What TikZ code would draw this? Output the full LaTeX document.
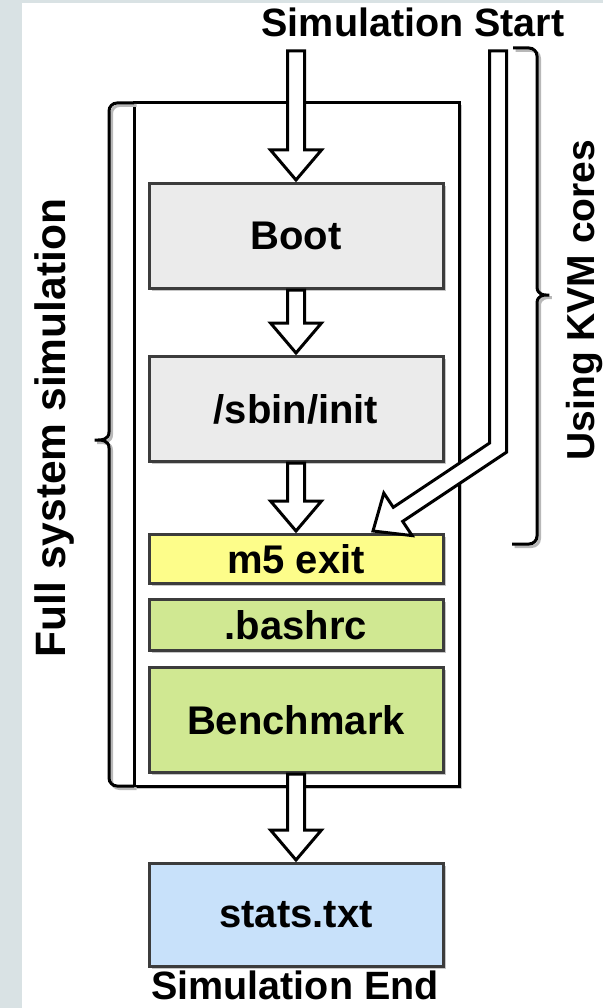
\documentclass[tikz,border=0pt]{standalone}
\usepackage{fontspec}
\setmainfont{Liberation Sans}
\usetikzlibrary{calc,shadows}

\definecolor{stripgrey}{HTML}{D9E2E4}
\definecolor{boxedge}{HTML}{3C3C3C}
\definecolor{bootgrey}{HTML}{EBEBEB}
\definecolor{exityellow}{HTML}{FDFD8A}
\definecolor{rcgreen}{HTML}{D0E892}
\definecolor{statsblue}{HTML}{C8E1FA}

\tikzset{
	stage/.style={draw=boxedge, line width=3pt, minimum width=294pt, inner sep=0pt,
		font=\fontsize{40}{42}\selectfont\bfseries,
		drop shadow={shadow xshift=2.5pt, shadow yshift=-2.5pt, fill=black!28, opacity=.8}},
	frame/.style={draw=black, line width=3pt, fill=white,
		drop shadow={shadow xshift=2.5pt, shadow yshift=-2.5pt, fill=black!28, opacity=.8}},
	brace/.style={draw=black, line width=3pt, rounded corners=8pt},
	braceshadow/.style={draw=black!28, line width=3pt, rounded corners=8pt, shift={(2.5,2.5)}},
	blockarrow/.style={draw=black, line width=3pt, fill=white, line join=miter},
	caption/.style={font=\fontsize{39.5}{42}\selectfont\bfseries, anchor=base}
}

% fat downward arrow from (#1) to the top of (#2)
\def\blockarrow(#1)(#2){\draw[blockarrow] ($(#1)+(-8.5,0)$) -- ($(#2)+(-8.5,-32)$) -- ($(#2)+(-25.5,-32)$) -- ($(#2)+(0,-2)$) -- ($(#2)+(25.5,-32)$) -- ($(#2)+(8.5,-32)$) -- ($(#1)+(8.5,0)$) -- cycle;}

\def\leftbrace{(134,103) -- (109,103) -- (109,424) .. controls (109,440) and (101,440) .. (90,440) .. controls (101,440) and (109,440) .. (109,456) -- (109,786) -- (134,786)}
\def\rightbrace{(513,48) -- (537,48) -- (537,279) .. controls (537,295) and (545,295) .. (554,295) .. controls (545,295) and (537,295) .. (537,311) -- (537,544) -- (512,544)}

\begin{document}
\begin{tikzpicture}[x=1pt, y=-1pt]
	\useasboundingbox (0,0) rectangle (603,1008);
	\fill[stripgrey] (0,0) rectangle (603,1008);
	\fill[white] (22,3) rectangle (603,1008);
	
	%%%%% frame and braces %%%%%
	\draw[frame] (134,103) rectangle (459,786);
	\draw[braceshadow] \leftbrace;
	\draw[brace] \leftbrace;
	\draw[braceshadow] \rightbrace;
	\draw[brace] \rightbrace;
	
	\node[caption] (start) at (413,37) {Simulation Start};
	\node[caption] (finish) at (295,999) {Simulation End};
	\node[caption, font=\fontsize{42.5}{44}\selectfont\bfseries, rotate=90] (fullsys) at (65,428) {Full system simulation};
	\node[caption, font=\fontsize{39}{41}\selectfont\bfseries, rotate=90] (kvm) at (594,300) {Using KVM cores};
	
	%%%%% stages %%%%%
	\node[stage, fill=bootgrey, minimum height=105pt] (boot) at (296,236) {Boot};
	\node[stage, fill=bootgrey, minimum height=105pt] (init) at (296,409) {/sbin/init};
	\node[stage, fill=exityellow, minimum height=49pt] (m5) at (296,559) {m5 exit};
	\node[stage, fill=rcgreen, minimum height=51pt] (bashrc) at (296,625) {.bashrc};
	\node[stage, fill=rcgreen, minimum height=105pt] (bench) at (296,720) {Benchmark};
	\node[stage, fill=statsblue, minimum height=103pt] (stats) at (296,915) {stats.txt};
	
	%%%%% arrows %%%%%
	\coordinate (simin) at (296,51);
	\blockarrow(simin)(boot.north)
	\blockarrow(boot.south)(init.north)
	\blockarrow(init.south)(m5.north)
	\blockarrow(bench.south)(stats.north)
	
	\coordinate (kvmtop) at (498,51);
	\coordinate (kvmtip) at (373,531);
	\draw[blockarrow] (kvmtop) ++(-8.5,0) -- (489.5,443.1) -- (393.3,507.3) -- (383.8,493.1) -- (kvmtip) -- (412.1,535.6) -- (402.7,521.4) -- (506.5,452.2) -- (506.5,51) -- cycle;
\end{tikzpicture}
\end{document}
